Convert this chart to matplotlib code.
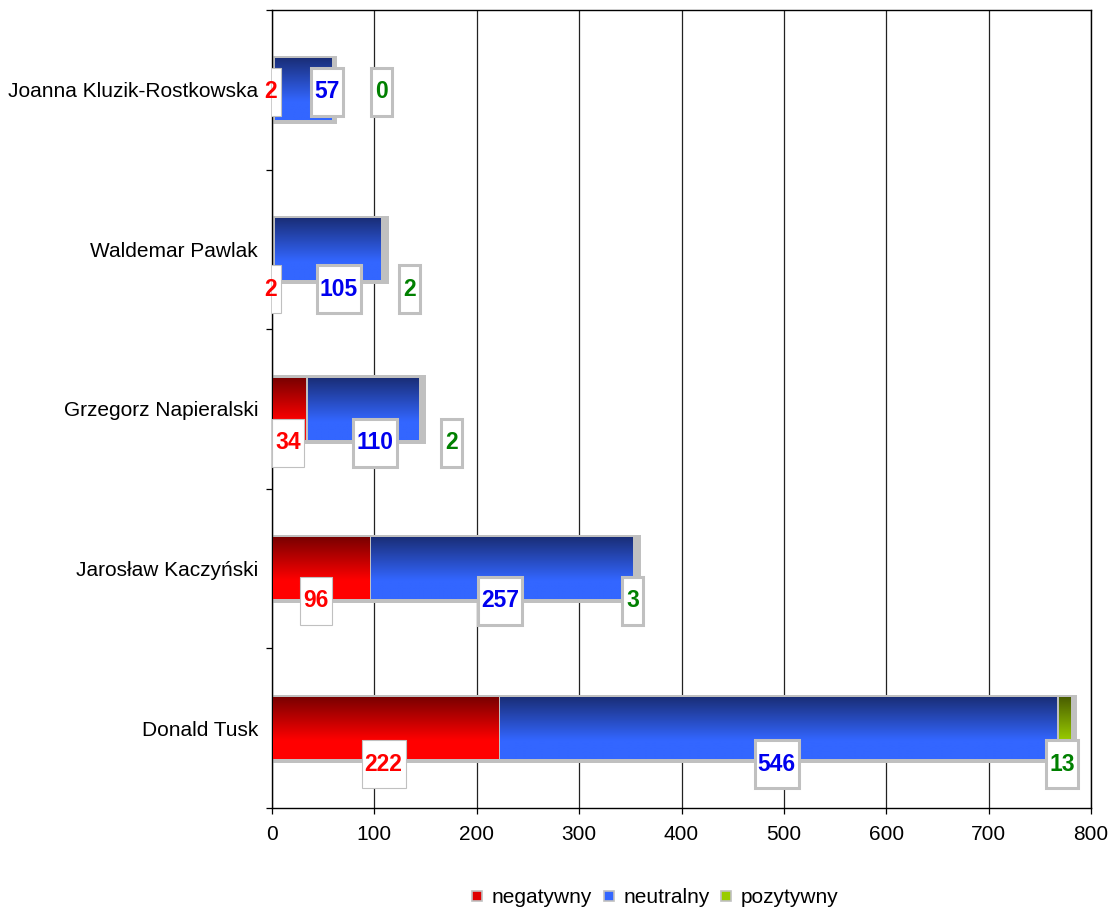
import numpy as np
import matplotlib
matplotlib.use("Agg")
import matplotlib.pyplot as plt
from matplotlib.patches import Rectangle
from matplotlib.lines import Line2D

plt.rcParams['font.family'] = ['Liberation Sans', 'DejaVu Sans']

# dane
names = ['Donald Tusk', 'Jarosław Kaczyński', 'Grzegorz Napieralski',
         'Waldemar Pawlak', 'Joanna Kluzik-Rostkowska']
negatywny = [222, 96, 34, 2, 2]
neutralny = [546, 257, 110, 105, 57]
pozytywny = [13, 3, 2, 2, 0]
series_names = ['negatywny', 'neutralny', 'pozytywny']

# wyglad
dark = ['#7a0000', '#1a2e78', '#4a5e00']
bright = ['#ff0000', '#3366ff', '#99cc00']
text_col = ['#ff0000', '#0000ee', '#008000']
edge_gray = '#c0c0c0'
bar_h = 0.395
# przesuniecie etykiet w dol (px) i w bok (jednostki osi)
label_dy = [36, 32, 34, 40, 2]
label_dx = [[-2, -2, -3], [-5, -2, -2], [-1, 12, 30], [-2, 11, 26], [-2, 23, 48]]
box_w = {1: 21, 2: 32, 3: 44}
box_h = 48

fig = plt.figure(figsize=(11.12, 9.11), dpi=100)
ax = fig.add_axes([272 / 1112, 103 / 911, 819 / 1112, 798 / 911])
xmax = 800
ax.set_xlim(0, xmax)
ax.set_ylim(-0.5, len(names) - 0.5)
ux = xmax / 819          # jednostki x na piksel
uy = len(names) / 798    # jednostki y na piksel


def gradient(c_top, c_bot, n=100, flat=0.3):
    a = np.array(matplotlib.colors.to_rgb(c_top))
    b = np.array(matplotlib.colors.to_rgb(c_bot))
    t = np.linspace(0, 1, n)
    t = np.clip(t / (1 - flat), 0, 1)
    return (a[None, :] * (1 - t[:, None]) + b[None, :] * t[:, None])[:, None, :]


y = np.arange(len(names))
for i in range(len(names)):
    vals = [negatywny[i], neutralny[i], pozytywny[i]]
    total = sum(vals)
    # cien / obramowanie calego paska
    ax.add_patch(Rectangle((0, y[i] - bar_h / 2 - 3 * uy), total + 5 * ux,
                           bar_h + 5 * uy, color=edge_gray, zorder=2, lw=0))
    left = 0
    for k, v in enumerate(vals):
        if v / ux > 5:   # bardzo waskie segmenty znikaja pod obramowaniem
            x0, x1 = left + ux, left + v - ux
            ax.imshow(gradient(dark[k], bright[k]), aspect='auto',
                      extent=(x0, x1, y[i] - bar_h / 2 + uy, y[i] + bar_h / 2 - uy),
                      origin='upper', interpolation='bilinear', zorder=3)
        left += v

    # etykiety
    left = 0
    for k, v in enumerate(vals):
        cx = left + v / 2 + label_dx[i][k]
        cy = y[i] - label_dy[i] * uy
        w = box_w[len(str(v))] * ux
        h = box_h * uy
        lw = 0.8 if k == 0 else 2.2
        ax.add_patch(Rectangle((cx - w / 2, cy - h / 2), w, h, facecolor='white',
                               edgecolor=edge_gray, lw=lw, zorder=4))
        ax.text(cx, cy, str(v), ha='center', va='center', fontsize=16.5,
                fontweight='bold', color=text_col[k], zorder=5)
        left += v

ax.set_xticks(range(0, xmax + 1, 100))
ax.xaxis.grid(True, color='#222222', lw=0.9)
ax.set_axisbelow(True)
ax.tick_params(axis='x', direction='out', length=4, width=0.9, pad=8, labelsize=15)
ax.set_yticks(y)
ax.set_yticklabels(names)
ax.set_yticks(np.arange(-0.5, len(names), 1), minor=True)
ax.tick_params(axis='y', which='major', length=0, pad=10, labelsize=15)
ax.tick_params(axis='y', which='minor', direction='out', length=4, width=0.9)
for s in ax.spines.values():
    s.set_linewidth(1.0)

handles = [Line2D([], [], ls='none', marker='s', markersize=7,
                  markerfacecolor=bright[k] if k != 0 else '#e00000',
                  markeredgecolor=edge_gray, markeredgewidth=1.2)
           for k in range(3)]
fig.legend(handles, series_names, loc='center', bbox_to_anchor=(0.588, 0.015),
           ncol=3, frameon=False, fontsize=15, handlelength=0.8,
           handletextpad=0.3, columnspacing=0.4)

fig.savefig('out.png', dpi=100)
